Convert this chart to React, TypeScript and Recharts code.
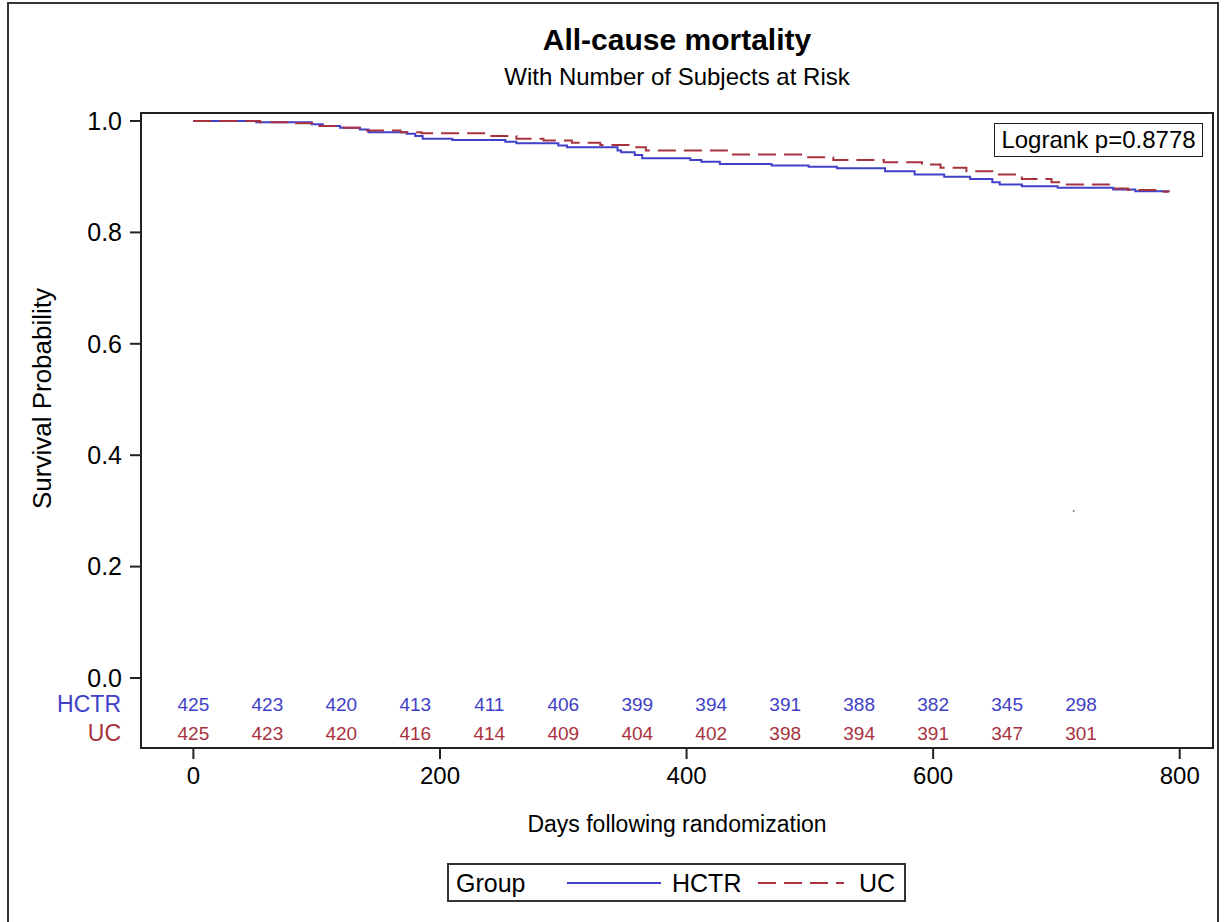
import { ComposedChart, Line, Scatter, XAxis, YAxis, ReferenceArea, ReferenceDot } from 'recharts';

// Kaplan-Meier step curves (days, survival)
const hctrTimes = [0, 51, 96, 105, 119, 135, 142, 173, 180, 186, 210, 253, 262, 296, 303, 344, 347, 358, 364, 403, 412, 427, 469, 499, 522, 561, 585, 609, 630, 648, 654, 672, 701, 746, 764, 791];
const hctrSurv = [1, 0.998, 0.994, 0.991, 0.988, 0.985, 0.98, 0.977, 0.973, 0.968, 0.966, 0.963, 0.96, 0.956, 0.953, 0.947, 0.944, 0.939, 0.933, 0.93, 0.927, 0.923, 0.92, 0.918, 0.915, 0.91, 0.904, 0.9, 0.896, 0.89, 0.886, 0.883, 0.88, 0.877, 0.874, 0.873];
const ucTimes = [0, 54, 79, 99, 122, 136, 168, 185, 239, 262, 284, 307, 330, 353, 367, 436, 495, 519, 560, 591, 606, 627, 648, 672, 696, 705, 746, 758, 782, 791];
const ucSurv = [1, 0.998, 0.996, 0.991, 0.988, 0.983, 0.98, 0.978, 0.973, 0.968, 0.965, 0.961, 0.957, 0.953, 0.947, 0.94, 0.935, 0.93, 0.926, 0.922, 0.916, 0.91, 0.904, 0.896, 0.89, 0.886, 0.879, 0.876, 0.873, 0.872];

// number at risk table
const riskTimes = [0, 60, 120, 180, 240, 300, 360, 420, 480, 540, 600, 660, 720];
const hctrAtRisk = [425, 423, 420, 413, 411, 406, 399, 394, 391, 388, 382, 345, 298];
const ucAtRisk = [425, 423, 420, 416, 414, 409, 404, 402, 398, 394, 391, 347, 301];

const xTicks = [0, 200, 400, 600, 800];
const yTicks = [0, 0.2, 0.4, 0.6, 0.8, 1.0];
const groups = ['HCTR', 'UC'];
const COLORS = ['#4040c8', '#a8323e'];

const X_DOMAIN = [-42.5, 827];
const Y_DOMAIN = [-0.1257, 1.0144];
const HCTR_ROW = -0.048;
const UC_ROW = -0.1;
const FONT = '"Liberation Sans", Arial, sans-serif';

const hctrData = hctrTimes.map((t, i) => ({ t, s: hctrSurv[i] }));
const ucData = ucTimes.map((t, i) => ({ t, s: ucSurv[i] }));
const hctrRisk = riskTimes.map((t, i) => ({ t, y: HCTR_ROW, n: hctrAtRisk[i] }));
const ucRisk = riskTimes.map((t, i) => ({ t, y: UC_ROW, n: ucAtRisk[i] }));

const riskText = (color: string) => (props: any) => (
    <text x={props.cx} y={props.cy} textAnchor="middle" dominantBaseline="central" fontSize={19} fill={color} fontFamily={FONT}>
        {props.payload.n}
    </text>
);

// legend box under the axis label
const GroupLegend = () => (
    <div style={{ position: 'absolute', left: 447, top: 863, width: 459, height: 39, border: '2px solid #333', boxSizing: 'border-box', fontFamily: FONT, fontSize: 25 }}>
        <span style={{ position: 'absolute', left: 7, top: 4 }}>Group</span>
        <svg width={94} height={10} style={{ position: 'absolute', left: 118, top: 13 }}>
            <line x1={0} y1={5} x2={94} y2={5} stroke={COLORS[0]} strokeWidth={2} />
        </svg>
        <span style={{ position: 'absolute', left: 223, top: 4 }}>{groups[0]}</span>
        <svg width={86} height={10} style={{ position: 'absolute', left: 309, top: 13 }}>
            <line x1={0} y1={5} x2={86} y2={5} stroke={COLORS[1]} strokeWidth={2} strokeDasharray="18 8" />
        </svg>
        <span style={{ position: 'absolute', left: 410, top: 4 }}>{groups[1]}</span>
    </div>
);

const App = () => {
    return (
        <div style={{ position: 'fixed', left: 0, top: 0, width: 1227, height: 922, background: '#fff', overflow: 'hidden', fontFamily: FONT }}>
            <div style={{ position: 'absolute', left: 7, top: 2, width: 1212, height: 940, border: '2px solid #333', boxSizing: 'border-box' }} />
            <div style={{ position: 'absolute', left: 0, width: 1354, top: 23, textAlign: 'center', fontSize: 30, fontWeight: 'bold' }}>All-cause mortality</div>
            <div style={{ position: 'absolute', left: 0, width: 1354, top: 63, textAlign: 'center', fontSize: 24 }}>With Number of Subjects at Risk</div>
            <div style={{ position: 'absolute', right: 1227 - 121, top: 691, fontSize: 23, color: COLORS[0] }}>HCTR</div>
            <div style={{ position: 'absolute', right: 1227 - 121, top: 720, fontSize: 23, color: COLORS[1] }}>UC</div>
            <div style={{ position: 'absolute', left: 994, top: 123, width: 209, height: 34, border: '1.5px solid #222', boxSizing: 'border-box', fontSize: 24, lineHeight: '31px', textAlign: 'center' }}>Logrank p=0.8778</div>
            <GroupLegend />
            <div style={{ position: 'absolute', left: 0, top: 0 }}>
                <ComposedChart width={1227} height={922} margin={{ top: 113, right: 14, bottom: 0, left: 0 }}>
                    <XAxis
                        type="number"
                        dataKey="t"
                        domain={X_DOMAIN}
                        ticks={xTicks}
                        allowDataOverflow
                        height={174}
                        tickSize={11}
                        tickMargin={8}
                        tick={{ fontSize: 24, fill: '#000', fontFamily: FONT }}
                        axisLine={{ stroke: '#222', strokeWidth: 2 }}
                        tickLine={{ stroke: '#222', strokeWidth: 2 }}
                        label={{ value: 'Days following randomization', position: 'insideTop', offset: 68, fontSize: 23, fill: '#000', fontFamily: FONT }}
                    />
                    <YAxis
                        type="number"
                        domain={Y_DOMAIN}
                        ticks={yTicks}
                        allowDataOverflow
                        width={141}
                        tickSize={11}
                        tickMargin={8}
                        tickFormatter={(v: number) => v.toFixed(1)}
                        tick={{ fontSize: 25, fill: '#000', fontFamily: FONT }}
                        axisLine={{ stroke: '#222', strokeWidth: 2 }}
                        tickLine={{ stroke: '#222', strokeWidth: 2 }}
                        label={{ value: 'Survival Probability', angle: -90, position: 'insideLeft', offset: 42, dy: -32, fontSize: 26, fill: '#000', fontFamily: FONT, style: { textAnchor: 'middle' } }}
                    />
                    <ReferenceArea x1={X_DOMAIN[0]} x2={X_DOMAIN[1]} y1={Y_DOMAIN[0]} y2={Y_DOMAIN[1]} fill="none" stroke="#222" strokeWidth={2} />
                    <Line data={hctrData} dataKey="s" name="HCTR" type="stepAfter" stroke={COLORS[0]} strokeWidth={2} dot={false} isAnimationActive={false} />
                    <Line data={ucData} dataKey="s" name="UC" type="stepAfter" stroke={COLORS[1]} strokeWidth={2} strokeDasharray="18 8" dot={false} isAnimationActive={false} />
                    <Scatter data={hctrRisk} dataKey="y" legendType="none" shape={riskText(COLORS[0])} isAnimationActive={false} />
                    <Scatter data={ucRisk} dataKey="y" legendType="none" shape={riskText(COLORS[1])} isAnimationActive={false} />
                    <ReferenceDot x={714} y={0.3} r={1} fill="#777" stroke="none" />
                </ComposedChart>
            </div>
        </div>
    );
};

export default App;
